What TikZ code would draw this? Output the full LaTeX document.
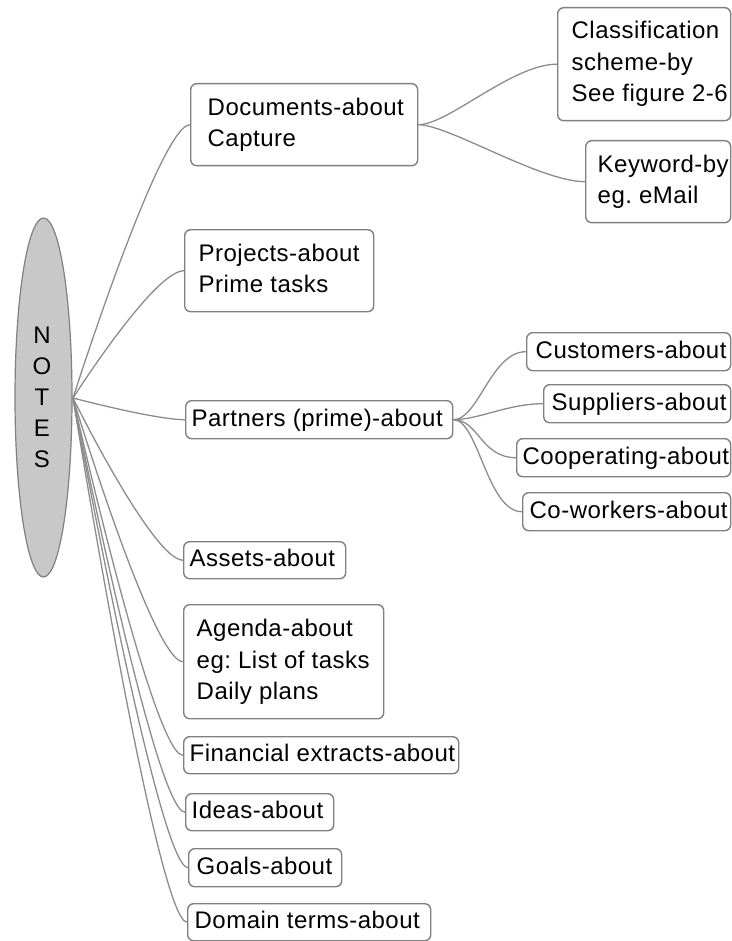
\documentclass[tikz,border=0pt]{standalone}
\usepackage{fontspec}
\setmainfont{Liberation Sans}[LetterSpace=2]
\usetikzlibrary{calc,shapes.geometric}
\definecolor{edgegray}{RGB}{128,128,128}
\definecolor{linkgray}{RGB}{140,140,140}
\definecolor{hubfill}{RGB}{200,200,200}
\frenchspacing
\tikzset{
  topic/.style={draw=edgegray, line width=1.4pt, rounded corners=6pt, fill=white,
    anchor=north west, inner sep=0pt,
    font=\fontsize{24}{31.5}\selectfont\frenchspacing},
  link/.style={draw=linkgray, line width=1.3pt},
  letter/.style={font=\fontsize{24}{24}\selectfont, inner sep=0pt}
}
% a box: #1 name, #2 x, #3 y, #4 width, #5 height, #6 left padding, #7 text
\newcommand{\topicbox}[7]{%
  \node[topic, minimum width=#4pt, minimum height=#5pt] (#1) at (#2,#3)
    {\makebox[#4pt][l]{\hspace*{#6pt}\begin{tabular}{@{}l@{}}#7\end{tabular}}};}
\begin{document}
\begin{tikzpicture}[x=1pt,y=-1pt]
\useasboundingbox (0,0) rectangle (731,941);

% central topic
\node[ellipse, draw=edgegray, line width=1.2pt, fill=hubfill,
      minimum width=57pt, minimum height=359pt, inner sep=0pt] (notes) at (43.5,397.5) {};
\foreach \ch [count=\i] in {N,O,T,E,S}
  \node[letter] (l\i) at (42,{304+31*\i}) {\ch};
\coordinate (hub) at (73,398);

% main topics
\topicbox{docs}{190}{83}{227}{82}{17}{Documents-about\\Capture}
\topicbox{proj}{184}{229}{189}{82}{14}{Projects-about\\Prime tasks}
\topicbox{part}{185}{400}{267}{38}{6}{Partners (prime)-about}
\topicbox{asset}{183}{541}{162}{37}{6}{Assets-about}
\topicbox{agenda}{183}{604}{200}{114}{13}{Agenda-about\\eg: List of tasks\\Daily plans}
\topicbox{fin}{183}{736}{275}{37}{6}{Financial extracts-about}
\topicbox{idea}{185}{793}{148}{37}{6}{Ideas-about}
\topicbox{goal}{188}{848}{153}{38}{8}{Goals-about}
\topicbox{dom}{187}{903}{243}{37}{7}{Domain terms-about}

% subtopics
\topicbox{class}{557}{7}{173}{113}{14}{Classification\\scheme-by\\See figure 2-6}
\topicbox{key}{585}{140}{145}{82}{12}{Keyword-by\\eg. eMail}
\topicbox{cust}{526}{332}{204}{38}{9}{Customers-about}
\topicbox{supp}{543}{384}{187}{38}{8}{Suppliers-about}
\topicbox{coop}{516}{438}{214}{38}{6}{Cooperating-about}
\topicbox{cowo}{522}{492}{208}{38}{7}{Co-workers-about}

% links from the central topic
\foreach \t in {docs,proj,part,asset,agenda,fin,idea,goal,dom}
  \draw[link] (hub) .. controls (hub) and ($(\t.west)+(-30,0)$) .. (\t.west);

% links to the subtopics
\foreach \t in {class,key}
  \draw[link] (docs.east) .. controls ($(docs.east)+(30,0)$) and ($(\t.west)+(-45,0)$) .. (\t.west);
\foreach \t in {cust,supp,coop,cowo}
  \draw[link] (part.east) .. controls ($(part.east)+(25,0)$) and ($(\t.west)+(-35,0)$) .. (\t.west);
\end{tikzpicture}
\end{document}
